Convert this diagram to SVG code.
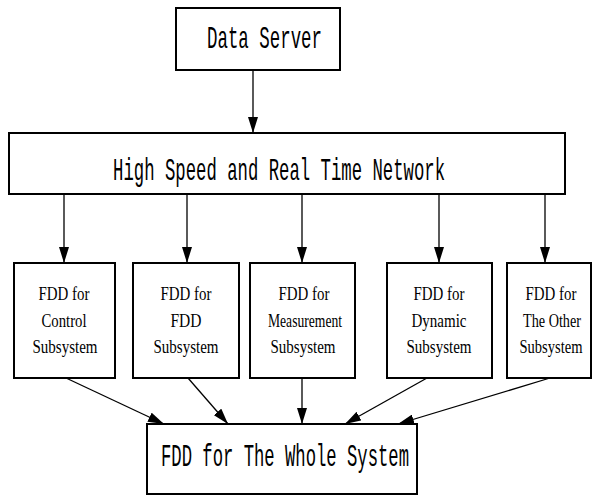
<svg xmlns="http://www.w3.org/2000/svg" width="592" height="497" viewBox="0 0 592 497">
<style>
.box{fill:#fff;stroke:#000;stroke-width:2}
.hd{font-family:"Liberation Mono",monospace;font-size:32px;fill:#000}
.sm{font-family:"Liberation Serif",serif;font-size:19px;fill:#000;text-anchor:middle}
.ln{stroke:#000;stroke-width:1.3;fill:none}
</style>
<defs>
<marker id="ah" markerWidth="16" markerHeight="10" refX="16" refY="5" orient="auto" markerUnits="userSpaceOnUse" viewBox="0 0 16 10">
<path d="M0,0 L16,5 L0,10 Z" fill="#000"/>
</marker>
</defs>
<rect width="592" height="497" fill="#fff"/>
<g id="connectors">
<line class="ln" x1="253" y1="70" x2="253" y2="133" marker-end="url(#ah)"/>
<line class="ln" x1="64" y1="194" x2="64" y2="263" marker-end="url(#ah)"/>
<line class="ln" x1="187" y1="194" x2="187" y2="263" marker-end="url(#ah)"/>
<line class="ln" x1="302" y1="194" x2="302" y2="263" marker-end="url(#ah)"/>
<line class="ln" x1="439" y1="194" x2="439" y2="263" marker-end="url(#ah)"/>
<line class="ln" x1="545" y1="194" x2="545" y2="263" marker-end="url(#ah)"/>
<line class="ln" x1="66" y1="378" x2="164" y2="424" marker-end="url(#ah)"/>
<line class="ln" x1="188" y1="378" x2="228" y2="424" marker-end="url(#ah)"/>
<line class="ln" x1="302" y1="378" x2="302" y2="424" marker-end="url(#ah)"/>
<line class="ln" x1="427" y1="378" x2="345" y2="424" marker-end="url(#ah)"/>
<line class="ln" x1="550" y1="378" x2="398" y2="424" marker-end="url(#ah)"/>
</g>
<g id="data-server">
<rect class="box" x="176" y="8" width="164" height="62"/>
<text class="hd" x="207" y="48" textLength="115" lengthAdjust="spacingAndGlyphs">Data Server</text>
</g>
<g id="network">
<rect class="box" x="9" y="133" width="556" height="61"/>
<text class="hd" x="113" y="180" textLength="332" lengthAdjust="spacingAndGlyphs">High Speed and Real Time Network</text>
</g>
<g id="control">
<rect class="box" x="14" y="263" width="101" height="115"/>
<text class="sm" x="64" y="300" textLength="51" lengthAdjust="spacingAndGlyphs">FDD for</text>
<text class="sm" x="64" y="327" textLength="45" lengthAdjust="spacingAndGlyphs">Control</text>
<text class="sm" x="65" y="353" textLength="65" lengthAdjust="spacingAndGlyphs">Subsystem</text>
</g>
<g id="fdd">
<rect class="box" x="133" y="263" width="106" height="115"/>
<text class="sm" x="186" y="300" textLength="51" lengthAdjust="spacingAndGlyphs">FDD for</text>
<text class="sm" x="186" y="327" textLength="31" lengthAdjust="spacingAndGlyphs">FDD</text>
<text class="sm" x="186" y="353" textLength="65" lengthAdjust="spacingAndGlyphs">Subsystem</text>
</g>
<g id="measurement">
<rect class="box" x="250" y="263" width="105" height="115"/>
<text class="sm" x="304" y="300" textLength="51" lengthAdjust="spacingAndGlyphs">FDD for</text>
<text class="sm" x="305" y="327" textLength="74" lengthAdjust="spacingAndGlyphs">Measurement</text>
<text class="sm" x="303" y="353" textLength="65" lengthAdjust="spacingAndGlyphs">Subsystem</text>
</g>
<g id="dynamic">
<rect class="box" x="387" y="263" width="105" height="115"/>
<text class="sm" x="439" y="300" textLength="51" lengthAdjust="spacingAndGlyphs">FDD for</text>
<text class="sm" x="439" y="327" textLength="55" lengthAdjust="spacingAndGlyphs">Dynamic</text>
<text class="sm" x="439" y="353" textLength="65" lengthAdjust="spacingAndGlyphs">Subsystem</text>
</g>
<g id="other">
<rect class="box" x="507" y="263" width="84" height="115"/>
<text class="sm" x="551" y="300" textLength="51" lengthAdjust="spacingAndGlyphs">FDD for</text>
<text class="sm" x="552" y="327" textLength="58" lengthAdjust="spacingAndGlyphs">The Other</text>
<text class="sm" x="551" y="353" textLength="63" lengthAdjust="spacingAndGlyphs">Subsystem</text>
</g>
<g id="whole">
<rect class="box" x="147" y="424" width="270" height="70"/>
<text class="hd" x="161" y="466" textLength="248" lengthAdjust="spacingAndGlyphs">FDD for The Whole System</text>
</g>
</svg>
